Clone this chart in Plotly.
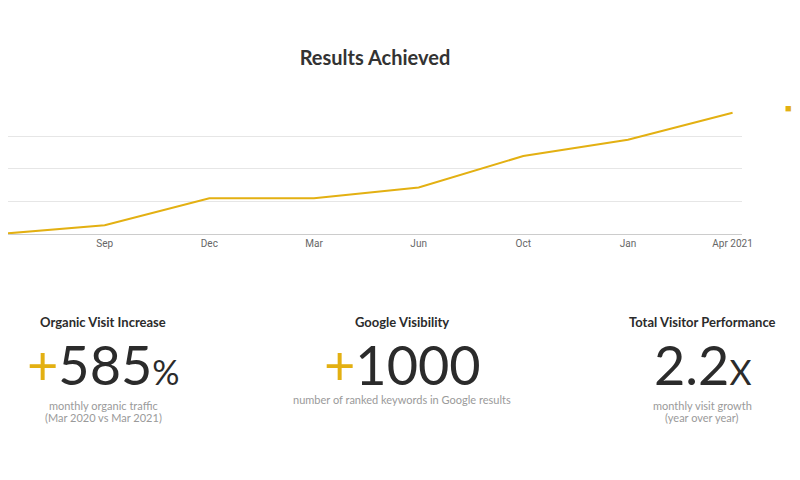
import plotly.graph_objects as go

categories = ["Jun 2019", "Sep", "Dec", "Mar", "Jun", "Oct", "Jan", "Apr 2021"]
visits = [0.0, 0.27, 1.1, 1.1, 1.43, 2.4, 2.9, 3.73]

gold = "#e3b012"
dark = "#2b2b2b"
gray = "#9a9a9a"
font = "Lato, Open Sans, sans-serif"

OFF = 8  # page body margin
T, B, R = 103 - OFF, 480 - (234 - OFF), 800 - (742 - OFF)
PW, PH = 800 - R, 480 - T - B

fig = go.Figure(go.Scatter(x=list(range(len(categories))), y=visits, mode="lines",
                           line=dict(color=gold, width=2), name="visits", showlegend=False))

fig.update_layout(
    width=800, height=480, margin=dict(l=0, r=R, t=T, b=B),
    paper_bgcolor="white", plot_bgcolor="white", font=dict(family=font),
    title=dict(text="<b>Results Achieved</b>", x=0.5, xref="paper", y=1 - (58 - OFF)/480, yanchor="middle",
               font=dict(size=20, color="#333333")),
)
fig.update_xaxes(tickvals=list(range(len(categories))), ticktext=categories, range=[0.076, 7.09],
                 showgrid=False, showline=True, linecolor="#cccccc", ticks="",
                 tickfont=dict(size=10, color="#666666", family="Roboto"))
fig.update_yaxes(range=[0, 4.03], dtick=1, showticklabels=False, gridcolor="#e6e6e6", zeroline=False)

anns = [dict(x=783, y=107, text=f"<span style='color:{gold}'>■</span>  visits", font=dict(size=11, color="#555"),
             xanchor="left")]
cols = [
    (103, "Organic Visit Increase", f"<span style='color:{gold}'>+</span>585<span style='font-size:34px'>%</span>",
     ["monthly organic traffic", "(Mar 2020 vs Mar 2021)"]),
    (402, "Google Visibility", f"<span style='color:{gold}'>+</span>1000",
     ["number of ranked keywords in Google results"]),
    (702, "Total Visitor Performance", "2.2<span style='font-size:34px'>X</span>",
     ["monthly visit growth", "(year over year)"]),
]
for cx, head, big, subs in cols:
    anns.append(dict(x=cx, y=322, text=f"<b>{head}</b>", font=dict(size=13, color=dark)))
    anns.append(dict(x=cx, y=364, text=big, font=dict(size=54, color=dark)))
    sy = 399 if len(subs) == 1 else 405
    for i, s in enumerate(subs):
        anns.append(dict(x=cx, y=sy + 12 * i, text=s, font=dict(size=11, color=gray)))
for a in anns:
    a.update(xref="paper", yref="paper", showarrow=False, yanchor="middle")
    a.setdefault("xanchor", "center")
    a["x"] = (a["x"] - OFF) / PW
    a["y"] = (480 - (a["y"] - OFF) - B) / PH
# first category label, clipped at the page edge like the reference
anns.append(dict(x=0, xref="x", y=(480 - (242 - OFF) - B) / PH, yref="paper", text=categories[0],
                 showarrow=False, yanchor="middle", font=dict(size=10, color="#666666", family="Roboto")))
fig.update_layout(annotations=anns)
fig.write_html("out.html")
